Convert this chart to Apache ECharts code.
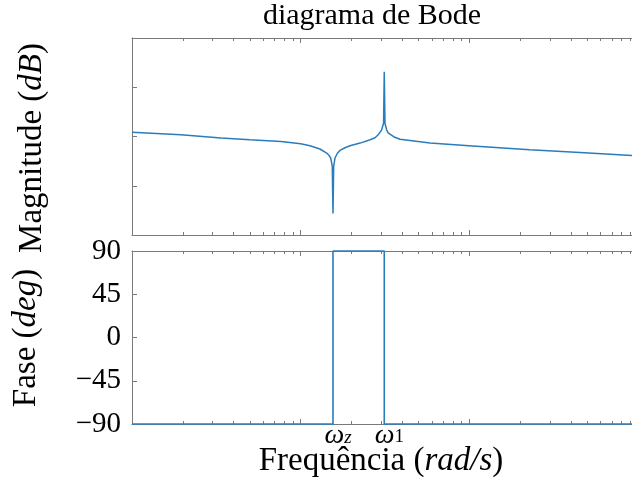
<!DOCTYPE html>
<html>
<head>
<meta charset="utf-8">
<script src="https://cdn.jsdelivr.net/npm/echarts@6/dist/echarts.min.js"></script>
<style>
  html, body { margin: 0; padding: 0; background: #fff; }
  #chart { width: 632px; height: 493px; }
</style>
</head>
<body>
<div id="chart"></div>
<script>
// Magnitude response, frequency in rad/s and gain in dB
const magFreq = [1, 1.95, 3.37, 5, 7.64, 10, 11.35, 13.0, 14.26, 14.7,
                 15.06, 15.39, 15.54, 15.69, 15.97, 16.5, 17.1, 18.3, 19.6, 22.5,
                 25.8, 27.6, 28.8, 30.2, 31.0, 31.29, 31.6, 32.3, 33.0, 33.8,
                 36.1, 38.8, 58.4, 99.5, 228, 452, 920];
const magDb = [4.4, 1.7, -1.6, -3.3, -5.1, -7.4, -9.4, -12.7, -16.8, -19.0,
               -21.8, -30.3, -78.1, -30.3, -21.8, -17.0, -14.1, -11.4, -9.4, -6.7,
               -3.3, -1.3, 1.7, 6.8, 13.5, 65.7, 13.5, 6.8, 3.7, 1.7,
               -0.8, -2.8, -6.7, -9.4, -13.4, -16.2, -19.3];

// Phase response in degrees
const phaseFreq = [1, 15.54, 15.54, 31.29, 31.29, 920];
const phaseDeg = [-90, -90, 90, 90, -90, -90];

// Marked frequencies on the lower axis (subscript style: italic letter or upright digit)
const markFreq = [15.54, 31.29];
const markSub = ['z', '1'];
const markSubStyle = ['si', 'sr'];

// Phase tick labels
const phaseTicks = [-90, -45, 0, 45, 90];
const phaseTickText = ['\u221290', '\u221245', '0', '45', '90'];

const SERIF = '"Liberation Serif", "Times New Roman", serif';
const AXIS_COLOR = '#7a7a7a';
const LINE_COLOR = '#2a7dbd';

// log10 frequency range: from 1 rad/s up to the right edge of the plot
const X_MIN = 0, X_MAX = 2.964;
const majorPos = [];
const minorPos = [];
for (let k = 0; k <= 2; k++) majorPos.push(k);
for (let k = 0; k < 3; k++) {
  for (let m = 2; m <= 9; m++) minorPos.push(Math.log10(m * Math.pow(10, k)));
}

function xAxisDef(gridIndex, position, ticks, len, showLine, labels) {
  return {
    type: 'value', gridIndex, position, min: X_MIN, max: X_MAX,
    axisLine: { show: showLine, onZero: false, lineStyle: { color: AXIS_COLOR, width: 1 } },
    axisTick: { show: true, inside: true, length: len, customValues: ticks,
                lineStyle: { color: AXIS_COLOR, width: 1 } },
    splitLine: { show: false },
    axisLabel: labels || { show: false }
  };
}

const markLabels = {
  show: true,
  margin: 1,
  customValues: markFreq.map(f => Math.log10(f)),
  formatter: function (v) {
    let best = 0;
    markFreq.forEach((f, i) => {
      if (Math.abs(Math.log10(f) - v) < Math.abs(Math.log10(markFreq[best]) - v)) best = i;
    });
    return '{w|\u03c9}{' + markSubStyle[best] + '|' + markSub[best] + '}';
  },
  rich: {
    w: { fontFamily: SERIF, fontStyle: 'italic', fontSize: 28, lineHeight: 22,
         color: '#000', padding: [0, 0, 0, 10] },
    si: { fontFamily: SERIF, fontStyle: 'italic', fontSize: 19, lineHeight: 14,
          verticalAlign: 'bottom', color: '#000' },
    sr: { fontFamily: SERIF, fontSize: 19, lineHeight: 14,
          verticalAlign: 'bottom', color: '#000' }
  }
};

const chart = echarts.init(document.getElementById('chart'), null, { renderer: 'canvas' });

chart.setOption({
  animation: false,
  backgroundColor: '#fff',
  grid: [
    { left: 132, top: 38, right: 0, height: 197 },
    { left: 132, top: 251, right: 0, height: 173 }
  ],
  xAxis: [
    xAxisDef(0, 'bottom', majorPos, 5, true),
    xAxisDef(0, 'bottom', minorPos, 3, false),
    xAxisDef(0, 'top', majorPos, 5, true),
    xAxisDef(0, 'top', minorPos, 3, false),
    xAxisDef(1, 'bottom', majorPos, 5, true, markLabels),
    xAxisDef(1, 'bottom', minorPos, 3, false),
    xAxisDef(1, 'top', majorPos, 5, true),
    xAxisDef(1, 'top', minorPos, 3, false)
  ],
  yAxis: [
    {
      type: 'value', gridIndex: 0, min: -100, max: 100, interval: 50,
      axisLine: { show: true, onZero: false, lineStyle: { color: AXIS_COLOR, width: 1 } },
      axisTick: { show: true, inside: true, length: 5, lineStyle: { color: AXIS_COLOR } },
      splitLine: { show: false },
      axisLabel: { show: false }
    },
    {
      type: 'value', gridIndex: 1, min: -90, max: 90, interval: 45,
      axisLine: { show: true, onZero: false, lineStyle: { color: AXIS_COLOR, width: 1 } },
      axisTick: { show: true, inside: true, length: 5, lineStyle: { color: AXIS_COLOR } },
      splitLine: { show: false },
      axisLabel: {
        show: true, margin: 11, color: '#000',
        fontFamily: SERIF, fontSize: 29,
        formatter: v => phaseTickText[phaseTicks.indexOf(v)]
      }
    }
  ],
  series: [
    {
      type: 'line', xAxisIndex: 0, yAxisIndex: 0,
      data: magFreq.map((f, i) => [Math.log10(f), magDb[i]]),
      showSymbol: false, clip: false,
      lineStyle: { color: LINE_COLOR, width: 1.5 }
    },
    {
      type: 'line', xAxisIndex: 4, yAxisIndex: 1,
      data: phaseFreq.map((f, i) => [Math.log10(f), phaseDeg[i]]),
      showSymbol: false, clip: false,
      lineStyle: { color: LINE_COLOR, width: 1.6 }
    }
  ],
  graphic: [
    {
      type: 'text', x: 372, y: 16,
      style: { text: 'diagrama de Bode', font: '30px ' + SERIF, fill: '#000',
               align: 'center', verticalAlign: 'middle' }
    },
    {
      type: 'text', x: 32, y: 148, rotation: Math.PI / 2,
      style: {
        text: '{n|Magnitude (}{m|dB}{n|)}', align: 'center', verticalAlign: 'middle',
        rich: {
          n: { fontFamily: SERIF, fontSize: 33, fill: '#000' },
          m: { fontFamily: SERIF, fontSize: 33, fontStyle: 'italic', fill: '#000' }
        }
      }
    },
    {
      type: 'text', x: 26, y: 338, rotation: Math.PI / 2,
      style: {
        text: '{n|Fase (}{m|deg}{n|)}', align: 'center', verticalAlign: 'middle',
        rich: {
          n: { fontFamily: SERIF, fontSize: 33, fill: '#000' },
          m: { fontFamily: SERIF, fontSize: 33, fontStyle: 'italic', fill: '#000' }
        }
      }
    },
    {
      type: 'text', x: 381, y: 461,
      style: {
        text: '{n|Frequ\u00eancia (}{m|rad/s}{n|)}', align: 'center', verticalAlign: 'middle',
        rich: {
          n: { fontFamily: SERIF, fontSize: 33, fill: '#000' },
          m: { fontFamily: SERIF, fontSize: 33, fontStyle: 'italic', fill: '#000' }
        }
      }
    }
  ]
});
</script>
</body>
</html>
